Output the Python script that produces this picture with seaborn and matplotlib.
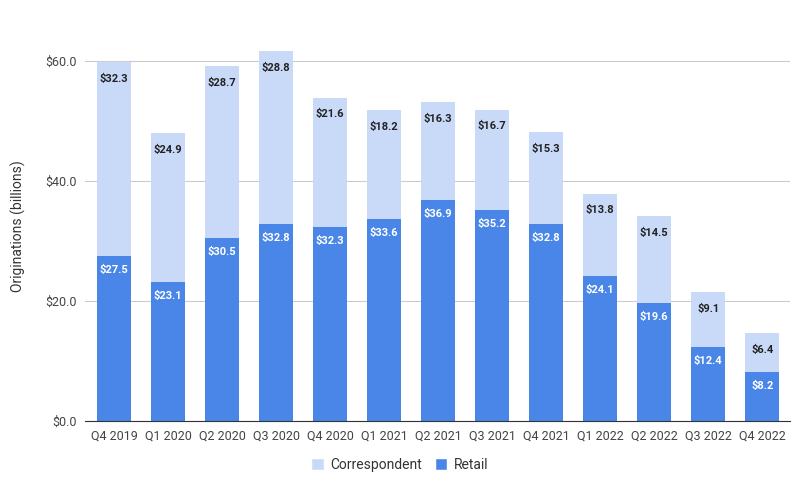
import pandas as pd
import matplotlib.pyplot as plt
import seaborn as sns
from matplotlib.patches import Patch

# --- data ---
quarters = ["Q4 2019", "Q1 2020", "Q2 2020", "Q3 2020", "Q4 2020", "Q1 2021", "Q2 2021",
            "Q3 2021", "Q4 2021", "Q1 2022", "Q2 2022", "Q3 2022", "Q4 2022"]
retail = [27.5, 23.1, 30.5, 32.8, 32.3, 33.6, 36.9, 35.2, 32.8, 24.1, 19.6, 12.4, 8.2]
correspondent = [32.3, 24.9, 28.7, 28.8, 21.6, 18.2, 16.3, 16.7, 15.3, 13.8, 14.5, 9.1, 6.4]

df = pd.DataFrame({"quarter": quarters, "retail": retail, "correspondent": correspondent})
df["total"] = df["retail"] + df["correspondent"]

sns.set_style("white")
plt.rcParams["font.family"] = ["Roboto", "DejaVu Sans"]

retail_color = "#4a86e8"
corr_color = "#c9daf8"

fig = plt.figure(figsize=(8, 5), dpi=100)
ax = fig.add_axes([0.106, 0.158, 0.882, 0.78])

# stacked: full height first, retail on top of it
sns.barplot(data=df, x="quarter", y="total", color=corr_color, width=0.63,
            saturation=1, linewidth=0, ax=ax, zorder=3)
sns.barplot(data=df, x="quarter", y="retail", color=retail_color, width=0.63,
            saturation=1, linewidth=0, ax=ax, zorder=3)

# value labels inside the top of each segment
for i, row in df.iterrows():
    ax.annotate(f"${row['correspondent']:.1f}", (i, row["total"]), xytext=(0, -12),
                textcoords="offset points", ha="center", va="center",
                fontsize=8, fontweight="bold", color="#222222", zorder=4)
    ax.annotate(f"${row['retail']:.1f}", (i, row["retail"]), xytext=(0, -10),
                textcoords="offset points", ha="center", va="center",
                fontsize=8, fontweight="bold", color="white", zorder=4)

ax.set_ylim(0, 65)
ax.set_xlim(-0.54, 12.52)
ax.set_yticks([0, 20, 40, 60])
ax.set_yticklabels([f"${v:.1f}" for v in [0, 20, 40, 60]])
ax.yaxis.grid(True, color="#cccccc", linewidth=0.8, zorder=0)
ax.tick_params(axis="both", length=0, labelsize=9, colors="#444444", pad=6)
ax.set_xlabel("")
ax.set_ylabel("Originations (billions)", fontsize=10, color="#333333", labelpad=14)
for s in ["top", "right", "left"]:
    ax.spines[s].set_visible(False)
ax.spines["bottom"].set_color("#333333")
ax.spines["bottom"].set_linewidth(0.8)
ax.spines["bottom"].set_zorder(5)

handles = [Patch(facecolor=corr_color, label="Correspondent"),
           Patch(facecolor=retail_color, label="Retail")]
fig.legend(handles=handles, loc="center", bbox_to_anchor=(0.5, 0.07), ncol=2,
           frameon=False, fontsize=10, handlelength=0.9, handleheight=0.9,
           handletextpad=0.5, columnspacing=0.9, labelcolor="#333333")

fig.savefig("out.png", dpi=100)
